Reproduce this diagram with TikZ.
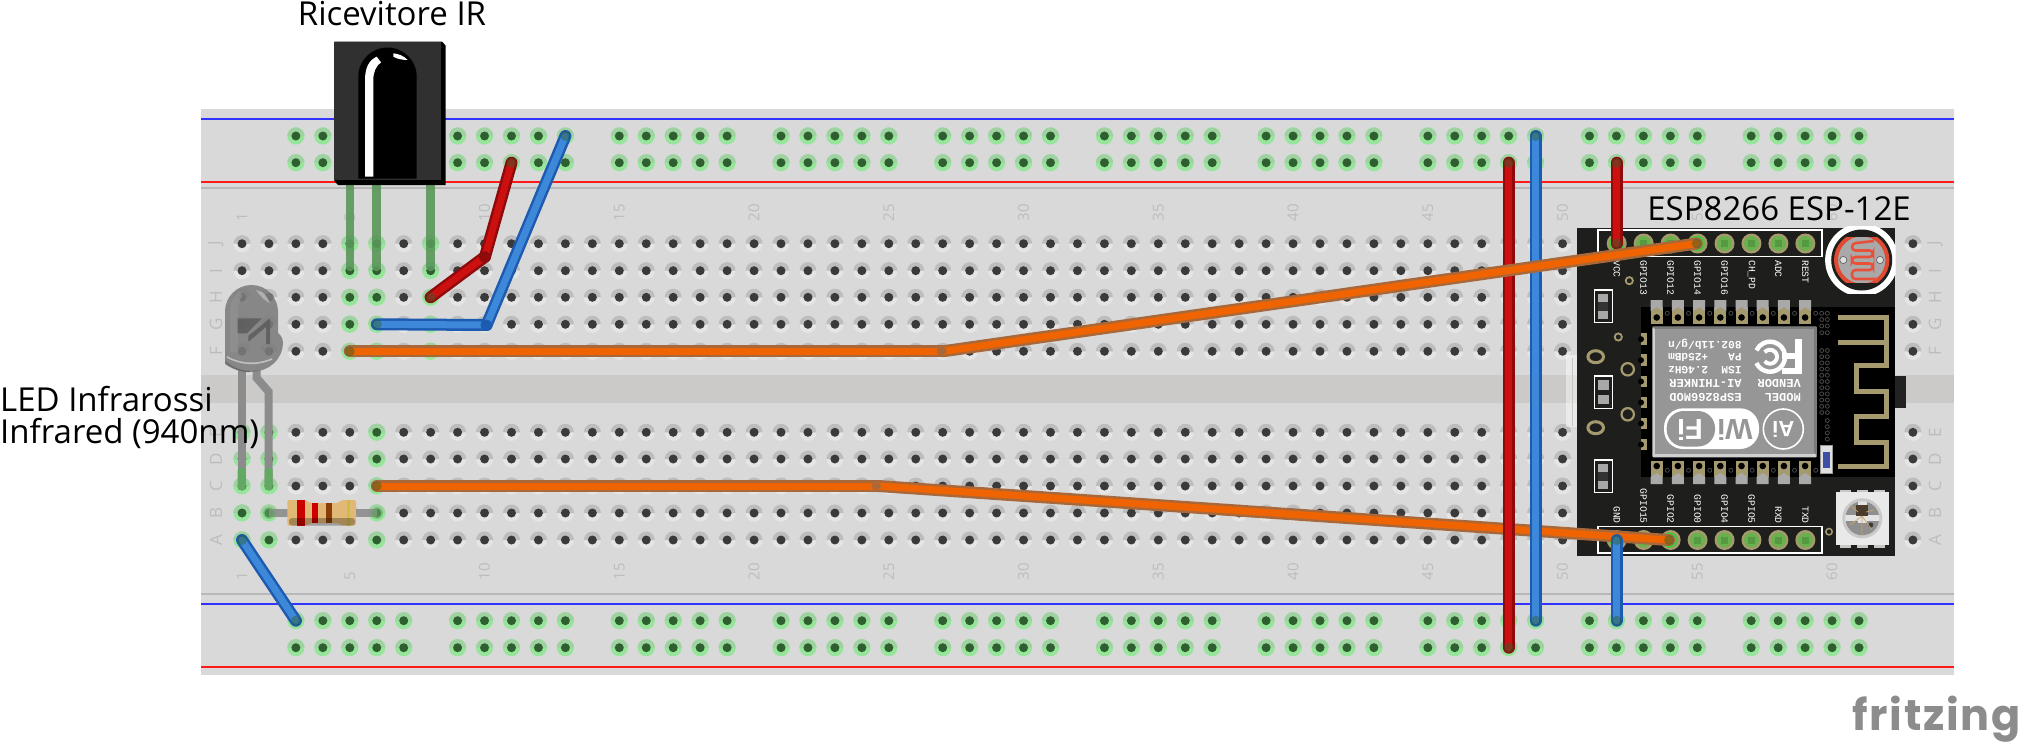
\documentclass[tikz,border=0pt]{standalone}
\usepackage{fontspec}
\setmainfont{Open Sans}
\newfontfamily\monof{Liberation Mono}
\newfontfamily\arf{Liberation Sans}
\newfontfamily\fritzf[LetterSpace=4]{Poppins}
\definecolor{boardc}{HTML}{D9D9D9}
\definecolor{groovec}{HTML}{CBCAC8}
\definecolor{tanc}{HTML}{A49A6E}
\definecolor{espc}{HTML}{1E1E1C}
\definecolor{labc}{HTML}{BDBDBD}
\definecolor{holec}{HTML}{3A3A3A}
\definecolor{greenc}{HTML}{2E5F2E}
\definecolor{redo}{HTML}{8F0A0A}
\definecolor{redi}{HTML}{CC1010}
\definecolor{blueo}{HTML}{1D5BB0}
\definecolor{bluei}{HTML}{3E88D9}
\definecolor{orao}{HTML}{A9683A}
\definecolor{orai}{HTML}{EF6400}
\definecolor{legc}{HTML}{63A863}
\definecolor{HalC}{HTML}{97E59B}
\definecolor{HalU}{HTML}{9ED3A1}
\newcommand{\fsz}[1]{\fontsize{#1}{#1}\selectfont}
\newcommand{\colx}[1]{\pgfmathsetmacro{\xx}{242+(#1-1)*26.95}}
% x, y, lower, upper, core
\newcommand{\bbhole}[5]{%
  \fill[#3] (#1,#2) circle[radius=8.6pt];
  \fill[#4] (#1-8.6,#2) arc[start angle=180,end angle=0,radius=8.6pt] -- cycle;
  \fill[#5] (#1,#2) circle[radius=4.5pt];}
\newcommand{\greyhole}[2]{\bbhole{#1}{#2}{black!10}{black!26}{holec}}
\newcommand{\greenhole}[2]{\bbhole{#1}{#2}{HalC}{HalU}{greenc}}
\newcommand{\wiresec}[4]{%
  \draw[line width=12pt,line cap=round,#1] (#3) -- (#4);
  \draw[line width=7pt,line cap=round,#2] (#3) -- (#4);}
\newcommand{\wend}[1]{\fill[greenc,opacity=.45] (#1) circle[radius=5pt];}
\tikzset{
  HTML/.code={\definecolor{tmpc}{HTML}{#1}\tikzset{color=tmpc}},
  numlab/.style={text=labc,font=\fsz{15},rotate=90,anchor=west,inner sep=0pt},
  letlab/.style={text=labc,font=\fsz{17},rotate=90,inner sep=0pt},
  pintop/.style={text=white,font=\monof\fsz{9.7},rotate=-90,anchor=west,inner sep=0pt},
  pinbot/.style={text=white,font=\monof\fsz{9.7},rotate=-90,anchor=east,inner sep=0pt},
  shieldtxt/.style={text=white,font=\monof\bfseries\fsz{12},rotate=180,anchor=west,inner sep=0pt},
  biglab/.style={text=black,inner sep=0pt,font=\fsz{33}},
  via/.style={draw=black!72,fill=black,line width=.8pt},
}
\begin{document}
\begin{tikzpicture}[x=1pt,y=-1pt]
\useasboundingbox (0,0) rectangle (2025,744);
% board
\fill[white] (0,0) rectangle (2025,744);
\fill[boardc] (201,109) rectangle (1954,675);
\fill[groovec] (201,375.3) rectangle (1954,402.7);
\draw[blue!80!white,line width=1.6pt] (201,118.7) -- (1954,118.7);
\draw[red!90!white,line width=1.4pt] (201,182) -- (1954,182);
\draw[black!28,line width=1.2pt] (201,188) -- (1954,188);
\draw[black!28,line width=1.2pt] (201,594) -- (1954,594);
\draw[blue!80!white,line width=1.6pt] (201,604) -- (1954,604);
\draw[red!90!white,line width=1.4pt] (201,667) -- (1954,667);
% main holes
\foreach \c in {1,...,63}{
  \colx{\c}
  \foreach \y in {243.7,270.7,297.3,324.3,351.3,432.3,459,486,513,540}{
    \greyhole{\xx}{\y}
  }
}
% connected holes
\foreach \c in {5,6,8}{\colx{\c}
  \foreach \y in {243.7,270.7,297.3,324.3,351.3}{\greenhole{\xx}{\y}}}
\foreach \c in {1,2,6}{\colx{\c}
  \foreach \y in {432.3,459,486,513,540}{\greenhole{\xx}{\y}}}
% rail holes
\foreach \g in {0,...,9}{
  \foreach \o in {0,...,4}{
    \pgfmathtruncatemacro{\c}{3+6*\g+\o}
    \colx{\c}
    \foreach \y in {136,162.7,620.7,647.7}{\greenhole{\xx}{\y}}
  }
}
% numbers
\foreach \n in {1,5,10,15,20,25,30,35,40,45,50,55,60}{
  \colx{\n}
  \node[numlab] (nt\n) at (\xx,221.7) {\n};
  \node[numlab] (nb\n) at (\xx,580.3) {\n};
}
\foreach \l/\y in {J/243.7,I/270.7,H/297.3,G/324.3,F/351.3,E/432.3,D/459,C/486,B/513,A/540}{
  \node[letlab] (ll\l) at (216,\y) {\l};
  \node[letlab] (lr\l) at (1935,\y) {\l};
}
% resistor
\draw[black!45,line width=8pt,opacity=.9] (269,513) -- (377,513);
\fill[legc,opacity=.55] (269,513) circle[radius=6pt];
\fill[legc,opacity=.55] (377,513) circle[radius=6pt];
\fill[HTML=E2B877,rounded corners=1.5pt] (287.3,500) -- (302,500) .. controls (308,500) and (308,503) .. (314,503) -- (334,503) .. controls (340,503) and (340,500) .. (346,500) -- (356,500) -- (356,525.7) -- (346,525.7) .. controls (340,525.7) and (340,523) .. (334,523) -- (314,523) .. controls (308,523) and (308,525.7) .. (302,525.7) -- (287.3,525.7) -- cycle;
\fill[HTML=CC0000] (297.3,499.6) rectangle (305,526);
\fill[HTML=CC0000] (311.7,502.6) rectangle (318.3,523.4);
\fill[HTML=8A3D05] (325.7,502.6) rectangle (332.3,523.4);
\fill[HTML=C8C040] (346.7,500) rectangle (350,525.7);
\fill[black,opacity=.27,rounded corners=3pt] (289,518) rectangle (355,525.5);
% IR receiver legs
\foreach \c in {5,6,8}{\colx{\c}
  \draw[legc!90!black,line width=8.6pt,line cap=round,opacity=.9] (\xx,182) -- (\xx,267);
}
% IR receiver
\fill[black] (334.3,41.7) -- (442,41.7) -- (445.7,45.5) -- (445.7,185) -- (338,185) -- (334.3,181) -- cycle;
\fill[HTML=303030] (334.3,41.7) rectangle (441,179.5);
\fill[black] (358.3,178.5) -- (358.3,76.7) arc[start angle=180,end angle=0,radius=29.2pt] -- (416.7,178.5) -- cycle;
\fill[white] (365,176.7) -- (365,80) .. controls (365,68) and (369,60) .. (376.7,56.7) -- (381,62.3) .. controls (376,66) and (373.3,72) .. (373.3,80) -- (373.3,176.7) -- cycle;
\fill[white] (393.3,53.3) .. controls (399,54) and (404,56) .. (407.7,60) .. controls (403,60) and (397,59) .. (393.3,56.7) -- cycle;
% LED leads
\draw[black!45,line width=8pt] (241.7,370) -- (241.7,486);
\draw[black!45,line width=8pt] (256.7,370) -- (256.7,378) -- (268.7,391.7) -- (268.7,486);
\fill[legc,rounded corners=2pt] (237.7,468) rectangle (245.7,490);
\fill[legc,rounded corners=2pt] (264.7,468) rectangle (272.7,490);
% LED body
\begin{scope}[opacity=.88]
\fill[HTML=7C7C7C] (225,311.5) arc[start angle=180,end angle=0,radius=26.5pt] -- (278,333) .. controls (281,335) and (283,339) .. (283,343) .. controls (283,358) and (270,372) .. (250,372) .. controls (240,372) and (232,369) .. (225,364) -- cycle;
\end{scope}
\fill[HTML=909090,opacity=.8] (230,311) .. controls (230,302) and (234,296) .. (240,291) -- (242,296) .. controls (239,300) and (238,306) .. (238,312) -- (238,352) -- (230,352) -- cycle;
\fill[HTML=5E5E5E,opacity=.9] (237.7,318.3) -- (261.7,318.3) -- (246.7,333.3) -- (237.7,333.3) -- cycle;
\fill[HTML=5E5E5E,opacity=.9] (270,318.3) -- (270,344) -- (266,344) -- (266,327) -- (248.3,341.7) -- (248.3,336) -- cycle;
\fill[HTML=B5B5B5,opacity=.9] (256,290) -- (262,292) .. controls (266,295) and (268,299) .. (270,303) .. controls (265,301) and (260,296) .. (256,290) -- cycle;
\draw[HTML=C0C0C0,line width=1.6pt] (227,357) .. controls (240,364) and (255,366) .. (272,359);
\draw[HTML=666666,line width=1.5pt,opacity=.8] (225.5,362) .. controls (234,369) and (242,371.5) .. (250,371.5);
% ESP board
\fill[white,opacity=.45] (1566,355) rectangle (1577,427);
\draw[black!22,line width=1.8pt] (1572.5,358) -- (1572.5,426);
\fill[espc] (1577,227.7) rectangle (1895,556);
\fill[black] (1641,306.7) rectangle (1895,476.7);
\fill[HTML=222222] (1895,376) rectangle (1906,407.5);
% header boxes
\draw[white,line width=1.3pt] (1598,230) rectangle (1822,256.7);
\draw[white,line width=1.3pt] (1598,526.7) rectangle (1822,553);
\foreach \k/\t in {0/VCC,1/GPIO13,2/GPIO12,3/GPIO14,4/GPIO16,5/CH\_PD,6/ADC,7/REST}{
  \pgfmathsetmacro{\px}{1616.7+\k*26.95}
  \fill[tanc] (\px,243.5) circle[radius=10pt];
  \fill[HTML=6AB04C] (\px,243.5) circle[radius=7.5pt];
  \fill[HTML=559A42] (\px-3.5,240) rectangle (\px+3.5,247);
  \node[pintop] (pt\k) at (\px,260) {\t};
}
\foreach \k/\t in {0/GND,1/GPIO15,2/GPIO2,3/GPIO0,4/GPIO4,5/GPIO5,6/RXD,7/TXD}{
  \pgfmathsetmacro{\px}{1616.7+\k*26.95}
  \fill[tanc] (\px,540) circle[radius=10pt];
  \fill[HTML=6AB04C] (\px,540) circle[radius=7.5pt];
  \fill[HTML=559A42] (\px-3.5,536.5) rectangle (\px+3.5,543.5);
  \node[pinbot] (pb\k) at (\px,524) {\t};
}
% SMD left
\foreach \y in {290,460}{
  \draw[white,line width=1.2pt] (1594.3,\y) rectangle (1612.5,\y+32.5);
  \fill[HTML=A8A8A8] (1598.3,\y+4) rectangle (1608.3,\y+28.5);
  \fill[HTML=333333] (1598.3,\y+12) rectangle (1608.3,\y+20.7);
}
\draw[white,line width=1.2pt] (1594.3,376) rectangle (1612.5,408.3);
\fill[HTML=A8A8A8] (1598.3,380) rectangle (1609,390);
\fill[HTML=A8A8A8] (1598.3,395) rectangle (1609,404.3);
% rings
\draw[tanc,line width=1.8pt] (1629.3,280.7) circle[radius=3.6pt];
\draw[tanc,line width=1.8pt] (1618.3,337) circle[radius=3.6pt];
\draw[tanc,line width=2.2pt] (1627.7,369.3) circle[radius=6.2pt];
\draw[tanc,line width=2.2pt] (1627.7,414.3) circle[radius=6.2pt];
\draw[tanc,line width=3pt] (1595.7,356.7) ellipse[x radius=7.8pt,y radius=6pt];
\draw[tanc,line width=3pt] (1595.7,427.7) ellipse[x radius=7.8pt,y radius=6pt];
\draw[tanc,line width=1.5pt] (1829,531.7) circle[radius=3.2pt];
% module pads
\foreach \k in {0,...,7}{
  \pgfmathsetmacro{\px}{1656.7+\k*21.2}
  \fill[tanc] (\px-6,307) rectangle (\px+6,323.5);
  \fill[HTML=A9A9A9] (\px-6,300) -- (\px+6,300) -- (\px+6,311) -- (\px,307) -- (\px-6,311) -- cycle;
  \fill[black] (\px,317.5) circle[radius=3.3pt];
  \fill[tanc] (\px-6,460.7) rectangle (\px+6,477);
  \fill[HTML=A9A9A9] (\px-6,484) -- (\px+6,484) -- (\px+6,477) -- (\px,473) -- (\px-6,477) -- cycle;
  \fill[black] (\px,466) circle[radius=3.3pt];
  \draw[via] (\px+10.6,313.3) circle[radius=2pt];
  \draw[via] (\px+10.6,470.3) circle[radius=2pt];
}
\foreach \y in {339.2,360.2,381.5,402.5,423.5,444.5}{
  \fill[tanc] (1641,\y-5.8) rectangle (1646.7,\y+5.8);
  \fill[black] (1641,\y) circle[radius=3pt];
}
% right vias
\foreach \x in {1821.7,1827.3}{
  \foreach \y in {313.3,319.5,326,332.7}{\draw[via] (\x,\y) circle[radius=2pt];}
  \foreach \i in {0,...,10}{\draw[via] (\x,350.5+\i*6.2) circle[radius=2pt];}
}
\foreach \i in {0,...,3}{\draw[via] (1827.3,420.5+\i*6.2) circle[radius=2pt];}
% shield
\fill[HTML=D0D0D0,rounded corners=1pt] (1652.3,326.7) rectangle (1816.7,457.3);
\fill[HTML=7A7A7A] (1652.3,326.7) -- (1816.7,326.7) -- (1816.7,455) -- (1814,453) -- (1814,329) -- (1655,329) -- cycle;
\fill[HTML=969696] (1655,329.3) rectangle (1814,454);
\node[shieldtxt,font=\monof\bfseries\fsz{11.1}] (s1) at (1741.7,344) {802.11b/g/n};
\node[shieldtxt,font=\monof\bfseries\fsz{11.1}] (s2) at (1741.7,357.3) {PA\ \ \ +25dBm};
\node[shieldtxt,font=\monof\bfseries\fsz{11.1}] (s3) at (1741.7,370) {ISM\ \ 2.4GHz};
\node[shieldtxt] (s4) at (1741.7,383.3) {AI-THINKER};
\node[shieldtxt] (s5) at (1741.7,397.3) {ESP8266MOD};
\node[shieldtxt] (s6) at (1801,383.3) {VENDOR};
\node[shieldtxt] (s7) at (1801,397.3) {MODEL};
% FC logo
\fill[white] (1795,339) rectangle (1801.7,374);
\fill[white] (1782,353) rectangle (1801.7,359.3);
\fill[white] (1782,368) rectangle (1801.7,374);
\draw[white,line width=4.5pt] (1770,356.7) ++(-155:15pt) arc[start angle=-155,end angle=155,radius=15pt];
\draw[white,line width=4pt] (1770,356.7) ++(-140:7pt) arc[start angle=-140,end angle=140,radius=7pt];
% WiFi logo
\fill[white,rounded corners=19pt] (1664,408.3) rectangle (1759,449);
\fill[HTML=969696,rounded corners=17pt] (1666.7,411) rectangle (1715,446.5);
\node[inner sep=0pt,rotate=180,font=\arf\bfseries\fsz{29}] (wi) at (1735,430) {\textcolor[HTML]{969696}{Wi}};
\node[text=white,inner sep=0pt,rotate=180,font=\arf\bfseries\fsz{29}] (fi) at (1690,430) {Fi};
\draw[white,line width=1.6pt] (1783.3,429) circle[radius=20pt];
\node[text=white,inner sep=0pt,rotate=180,font=\arf\bfseries\fsz{22}] (ai) at (1783.3,429) {Ai};
% antenna
\draw[tanc,line width=4.7pt,line join=miter] (1838.3,317.3) -- (1886.7,317.3) -- (1886.7,365.7) -- (1856.7,365.7) -- (1856.7,391.7) -- (1886.7,391.7) -- (1886.7,416.7) -- (1856.7,416.7) -- (1856.7,442.7) -- (1886.7,442.7) -- (1886.7,466.7) -- (1838.3,466.7);
\draw[tanc,line width=4.7pt] (1838.3,342.3) -- (1886.7,342.3);
% tiny led
\fill[HTML=E0E0E0] (1820,445) rectangle (1832.7,473.3);
\draw[black!40,line width=.8pt] (1820,445) rectangle (1832.7,473.3);
\fill[HTML=3C4FA5] (1823.3,451.7) rectangle (1830,468.3);
% LDR
\begin{scope}
\clip (1825,226.7) rectangle (1895.7,293.5);
\fill[white] (1861.7,260) circle[radius=36.6pt];
\end{scope}
\fill[espc] (1861.7,260) circle[radius=30.5pt];
\begin{scope}
\clip (1830,237) rectangle (1892,282.7);
\fill[HTML=A9A9A9] (1861.7,260) circle[radius=25.7pt];
\draw[HTML=E04A33,line width=4pt] (1861.7,260) circle[radius=25.7pt];
\end{scope}
\draw[HTML=E8503A,line width=2.6pt,rounded corners=3.5pt] (1874,241) -- (1852,243.5) -- (1852,250.5) -- (1873,250.5) -- (1873,257) -- (1852,257) -- (1852,263.5) -- (1873,263.5) -- (1873,270) -- (1852,270) -- (1852,279) -- (1878,279);
\draw[black!65,fill=black!13,line width=.6pt] (1843.3,260) circle[radius=3.6pt];
\draw[black!65,fill=black!13,line width=.6pt] (1880,260) circle[radius=3.6pt];
% RGB led
\foreach \x in {1840,1857,1874}{
  \fill[black!22] (\x,490) rectangle (\x+11,547.5);
}
\fill[HTML=E9E9E9] (1836,492.3) rectangle (1889,545);
\fill[HTML=C9C9C9] (1862.3,518.3) circle[radius=20pt];
\fill[HTML=E4E4E4] (1862.3,518.3) circle[radius=17pt];
\begin{scope}
\clip (1862.3,518.3) circle[radius=17pt];
\fill[HTML=8F8F8F] (1846,501) rectangle (1858,515);
\fill[HTML=8F8F8F] (1867,501) rectangle (1880,515);
\fill[HTML=8F8F8F] (1846,521) rectangle (1858,536);
\fill[HTML=8F8F8F] (1867,521) rectangle (1880,536);
\fill[HTML=8F8F8F] (1858,523) rectangle (1867,536);
\end{scope}
\fill[HTML=4A3B2B] (1856.3,504.5) rectangle (1868.3,516);
\fill[HTML=3A3A3A] (1870.7,525) circle[radius=2.6pt];
\draw[HTML=CFA46A,line width=.7pt] (1858,512) -- (1850,505) (1866,512) -- (1874,510) (1862,516) -- (1850,525) (1862,516) -- (1872,530) (1862,516) -- (1862,536);
% wires: named ends
\coordinate (a1) at (430.6,297.3);
\coordinate (a2) at (485,256.7);
\coordinate (a3) at (511.5,162.7);
\coordinate (b1) at (376.8,324.3);
\coordinate (b2) at (486.6,325);
\coordinate (b3) at (565.4,136);
\coordinate (c1) at (349.8,351.3);
\coordinate (c2) at (943,351.3);
\coordinate (c3) at (1696.7,243.5);
\coordinate (d1) at (376.8,486);
\coordinate (d2) at (878,486);
\coordinate (d3) at (1669,540);
\coordinate (e1) at (1508.7,162.7);
\coordinate (e2) at (1508.7,647.7);
\coordinate (f1) at (1535.6,136);
\coordinate (f2) at (1535.6,620.7);
\coordinate (g1) at (1616.7,162.7);
\coordinate (g2) at (1616.7,243.5);
\coordinate (h1) at (1616.7,540);
\coordinate (h2) at (1616.7,620.7);
\coordinate (i1) at (242,540);
\coordinate (i2) at (295.9,620.7);
% green rims on pins in use
\foreach \p in {g2,c3,h1,d3}{\draw[HTML=35D035,line width=1.2pt] (\p) circle[radius=7pt];}
\wiresec{orao}{orai}{d1}{d2}
\wiresec{orao}{orai}{d2}{d3}
\fill[orao] (d2) circle[radius=3pt];
\wiresec{redo}{redi}{e1}{e2}
\wiresec{blueo}{bluei}{f1}{f2}
\wiresec{redo}{redi}{g1}{g2}
\wiresec{orao}{orai}{c1}{c2}
\wiresec{orao}{orai}{c2}{c3}
\fill[orao] (c2) circle[radius=3.6pt];
\wiresec{blueo}{bluei}{h1}{h2}
\wiresec{blueo}{bluei}{i1}{i2}
\wiresec{redo}{redi}{a1}{a2}
\wiresec{redo}{redi}{a2}{a3}
\fill[redo] (a2) circle[radius=5.5pt];
\wiresec{blueo}{bluei}{b1}{b2}
\wiresec{blueo}{bluei}{b2}{b3}
\fill[blueo] (b2) circle[radius=5.5pt];
\foreach \p in {a1,a3,b1,b3,c1,c3,d1,d3,e1,e2,f1,f2,g1,g2,h1,h2,i1,i2}{\wend{\p}}
% labels
\node[biglab,anchor=base] (ir) at (392,25) {Ricevitore IR};
\node[biglab,anchor=base] (esp) at (1779,220) {ESP8266 ESP-12E};
\node[biglab,anchor=base west] (led1) at (0,411) {LED Infrarossi};
\node[biglab,anchor=base west] (led2) at (0,443.7) {Infrared (940nm)};
% fritzing
\node[text=black!45,inner sep=0pt,anchor=base east,font=\fritzf\bfseries\fsz{43}] (frz) at (2021,730) {fritzing};
\end{tikzpicture}
\end{document}
